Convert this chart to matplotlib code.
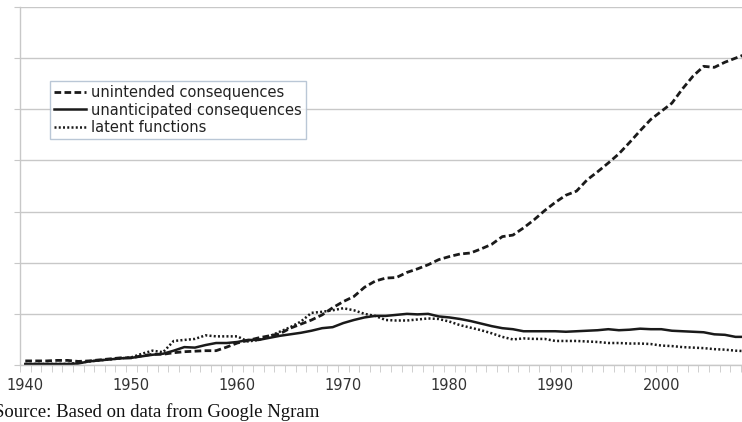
import numpy as np
import matplotlib.pyplot as plt
from matplotlib.ticker import FixedLocator, NullFormatter

years = list(range(1940, 2009))

# unitless Ngram frequencies (one gridline = 1 unit)
unintended = [0.08, 0.08, 0.08, 0.09, 0.09, 0.07, 0.08, 0.10, 0.12, 0.14,
              0.14, 0.18, 0.21, 0.21, 0.24, 0.26, 0.27, 0.28, 0.28, 0.35,
              0.43, 0.48, 0.53, 0.57, 0.61, 0.72, 0.80, 0.88, 0.98, 1.12,
              1.24, 1.34, 1.52, 1.64, 1.70, 1.71, 1.81, 1.88, 1.96, 2.06,
              2.12, 2.17, 2.19, 2.27, 2.36, 2.51, 2.54, 2.68, 2.84, 3.02,
              3.18, 3.32, 3.40, 3.62, 3.78, 3.95, 4.13, 4.35, 4.58, 4.80,
              4.96, 5.12, 5.40, 5.65, 5.84, 5.82, 5.92, 6.00, 6.08]
unanticipated = [0.02, 0.02, 0.02, 0.02, 0.02, 0.03, 0.07, 0.09, 0.11, 0.13,
                 0.14, 0.17, 0.20, 0.22, 0.28, 0.35, 0.34, 0.39, 0.43, 0.43,
                 0.45, 0.49, 0.49, 0.53, 0.57, 0.60, 0.63, 0.67, 0.72, 0.74,
                 0.82, 0.88, 0.93, 0.96, 0.96, 0.98, 1.00, 0.99, 1.00, 0.95,
                 0.93, 0.90, 0.86, 0.81, 0.76, 0.72, 0.70, 0.66, 0.66, 0.66,
                 0.66, 0.65, 0.66, 0.67, 0.68, 0.70, 0.68, 0.69, 0.71, 0.70,
                 0.70, 0.67, 0.66, 0.65, 0.64, 0.60, 0.59, 0.55, 0.55]
latent = [0.02, 0.02, 0.02, 0.02, 0.02, 0.04, 0.07, 0.09, 0.11, 0.13,
          0.15, 0.22, 0.28, 0.25, 0.47, 0.49, 0.51, 0.58, 0.56, 0.56,
          0.56, 0.46, 0.49, 0.56, 0.65, 0.74, 0.85, 1.02, 1.04, 1.07,
          1.11, 1.07, 1.00, 0.96, 0.88, 0.87, 0.87, 0.89, 0.91, 0.90,
          0.85, 0.78, 0.73, 0.68, 0.62, 0.55, 0.50, 0.52, 0.51, 0.51,
          0.47, 0.47, 0.47, 0.46, 0.45, 0.43, 0.43, 0.42, 0.42, 0.41,
          0.38, 0.37, 0.35, 0.34, 0.33, 0.31, 0.30, 0.28, 0.27]

grid_c = '#c8c8c8'
line_c = '#1a1a1a'

fig = plt.figure(figsize=(7.42, 4.22), dpi=100)
ax = fig.add_axes([20 / 742, 57 / 422, 722 / 742, 358 / 422])

ax.plot(years, unintended, color=line_c, lw=2.0, dashes=(2.4, 1.2),
        label='unintended consequences')
ax.plot(years, unanticipated, color=line_c, lw=1.8, label='unanticipated consequences')
ax.plot(years, latent, color=line_c, lw=1.8, dashes=(0.8, 0.9),
        label='latent functions')

ax.set_xlim(1939.5, 1939.5 + 722 / 10.6)
ax.set_ylim(0, 7)

# gridlines
ax.set_yticks(np.arange(0, 8, 1))
ax.yaxis.set_major_formatter(NullFormatter())
ax.grid(axis='y', color=grid_c, lw=1)
ax.set_axisbelow(True)
ax.tick_params(axis='y', length=4, color=grid_c)

# category style x axis: ticks between years, labels on decades
ax.xaxis.set_major_locator(FixedLocator(range(1940, 2010, 10)))
ax.xaxis.set_minor_locator(FixedLocator(np.arange(1939.5, 2009, 1)))
ax.tick_params(axis='x', which='major', length=0, pad=9, labelsize=10.5,
               labelcolor='#333333')
ax.tick_params(axis='x', which='minor', length=5, color=grid_c, direction='out')

for s in ['top', 'right']:
    ax.spines[s].set_visible(False)
for s in ['left', 'bottom']:
    ax.spines[s].set_color(grid_c)
    ax.spines[s].set_linewidth(1)

leg = ax.legend(loc='upper left', bbox_to_anchor=(50 / 742, 1 - 81 / 422),
                bbox_transform=fig.transFigure, borderaxespad=0,
                fontsize=10.5, frameon=True, fancybox=False,
                handlelength=2.2, handletextpad=0.3, labelspacing=0.15,
                borderpad=0.3)
leg.get_frame().set_edgecolor('#a9b9cc')
leg.get_frame().set_linewidth(1)
for t in leg.get_texts():
    t.set_color('#222222')

fig.text(-0.008, 10 / 422, 'Source: Based on data from Google Ngram',
         family='Liberation Serif', fontsize=13.5, va='center', ha='left',
         color='#111111')

fig.savefig('out.png', dpi=100)
